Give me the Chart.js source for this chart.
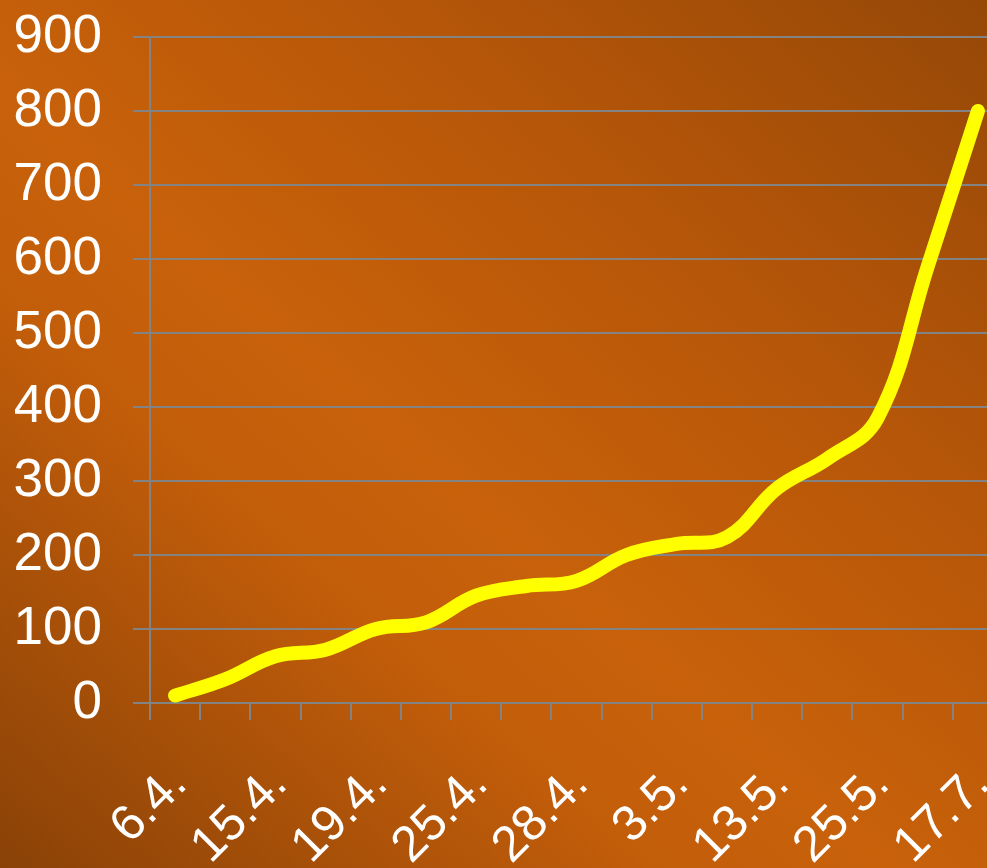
<!DOCTYPE html>
<html>
<head>
<meta charset="utf-8">
<script src="https://cdn.jsdelivr.net/npm/chart.js"></script>
<style>
  html, body { margin: 0; padding: 0; overflow: hidden; }
  body {
    width: 987px; height: 868px;
    background: linear-gradient(to top right, #8a4207 0%, #c25d0a 33%, #c8610a 45%, #b85709 68%, #964807 100%);
  }
  #wrap { position: absolute; left: 0; top: 0; width: 1003px; height: 911px; }
</style>
</head>
<body>
<div id="wrap"><canvas id="chart"></canvas></div>
<script>
// ======================
// Data
// ======================
const dates = ['6.4.', '11.4.', '15.4.', '17.4.', '19.4.', '22.4.', '25.4.', '27.4.', '28.4.',
               '30.4.', '3.5.', '8.5.', '13.5.', '20.5.', '25.5.', '15.6.', '17.7.'];
const counts = [10, 32, 63, 72, 100, 109, 145, 158, 165, 200, 215, 224, 290, 330, 385, 590, 800];
const yTicks = [0, 100, 200, 300, 400, 500, 600, 700, 800, 900];

const gridColor = '#838383';

new Chart(document.getElementById('chart'), {
  type: 'line',
  data: {
    labels: dates,
    datasets: [{
      data: counts,
      borderColor: '#ffff00',
      borderWidth: 14,
      borderCapStyle: 'round',
      borderJoinStyle: 'round',
      tension: 0.4,
      pointRadius: 0,
      fill: false
    }]
  },
  options: {
    responsive: true,
    maintainAspectRatio: false,
    animation: false,
    layout: { padding: { left: 15, top: 37, right: 0, bottom: 0 } },
    plugins: { legend: { display: false }, tooltip: { enabled: false } },
    scales: {
      x: {
        offset: true,
        afterFit: (scale) => { scale.paddingLeft = 0; scale.paddingRight = 0; },
        grid: { color: gridColor, lineWidth: 2, drawOnChartArea: false, tickLength: 17, offset: true },
        border: { color: gridColor, width: 2 },
        ticks: {
          autoSkip: false,
          minRotation: 45,
          maxRotation: 45,
          padding: 35,
          labelOffset: 4,
          color: '#ffffff',
          font: { family: 'Liberation Sans, Arial, sans-serif', size: 50 },
          callback: function (val, i) { return i % 2 === 0 ? dates[i] : ''; }
        }
      },
      y: {
        min: 0,
        max: 900,
        afterBuildTicks: (axis) => { axis.ticks = yTicks.map(v => ({ value: v })); },
        afterFit: (scale) => { scale.width = 135; scale.paddingTop = 0; scale.paddingBottom = 0; },
        grid: { color: gridColor, lineWidth: 2, tickLength: 17 },
        border: { color: gridColor, width: 2 },
        ticks: {
          padding: 31,
          color: '#ffffff',
          font: { family: 'Liberation Sans, Arial, sans-serif', size: 53 }
        }
      }
    }
  }
});
</script>
</body>
</html>
